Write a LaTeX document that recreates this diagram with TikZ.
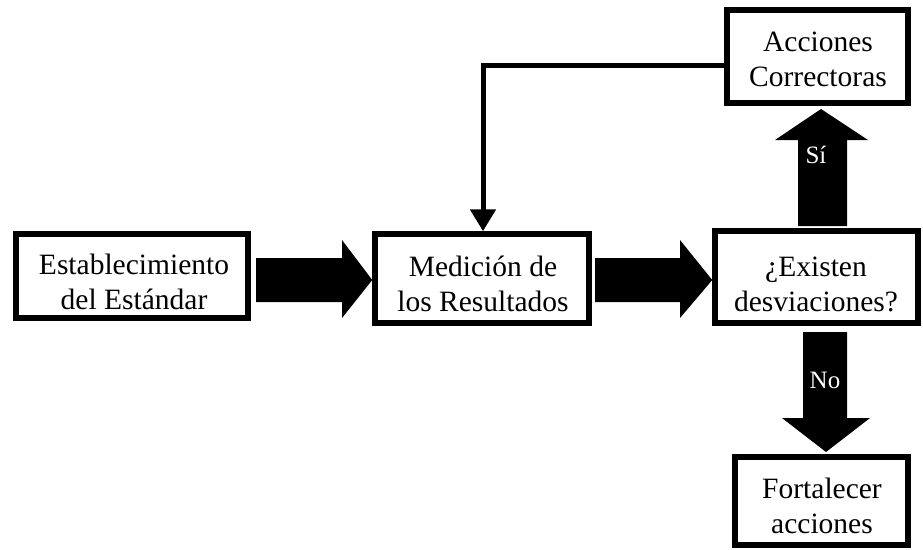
\documentclass[tikz,border=0pt]{standalone}
\usepackage{fontspec}
\setmainfont{Liberation Serif}
\usetikzlibrary{arrows.meta}
\begin{document}
\begin{tikzpicture}[x=1pt,y=-1pt,
  box/.style={draw=black, line width=5.5pt, inner sep=0pt},
  lbl/.style={font=\fontsize{29.5}{35}\selectfont, align=center, inner sep=0pt, text depth=0pt, anchor=south},
  bigarrow/.style={fill=black, draw=none},
  arrlbl/.style={font=\fontsize{25}{28}\selectfont, text=white, inner sep=0pt, anchor=base},
  fb/.style={line width=5pt, line join=miter, -{Triangle[width=25pt,length=22pt]}}]
\useasboundingbox (0,0) rectangle (923,549);
% boxes
\node[box, minimum width=232pt, minimum height=84pt] (b1) at (132,276) {};
\node[box, minimum width=214pt, minimum height=89pt] (b2) at (482,278.5) {};
\node[box, minimum width=203pt, minimum height=92pt] (b3) at (816.5,277) {};
\node[box, minimum width=181pt, minimum height=93pt] (b4) at (817.5,56.5) {};
\node[box, minimum width=173pt, minimum height=88pt] (b5) at (821.5,501) {};
% texts
\node[lbl] (t1) at (134,310) {Establecimiento\\del Estándar};
\node[lbl] (t2) at (483,312) {Medición de\\los Resultados};
\node[lbl] (t3) at (816,312) {¿Existen\\desviaciones?};
\node[lbl] (t4) at (818,87) {Acciones\\Correctoras};
\node[lbl] (t5) at (822,534) {Fortalecer\\acciones};
% block arrows
\fill[bigarrow] (256,258) -- (342,258) -- (342,240) -- (b2.west |- 0,280) -- (342,318) -- (342,302) -- (256,302) -- cycle;
\fill[bigarrow] (595,258) -- (680,258) -- (680,240) -- (b3.west |- 0,280) -- (680,318) -- (680,302) -- (595,302) -- cycle;
\fill[bigarrow] (798,226) -- (798,140) -- (775,140) -- (821,109) -- (868,140) -- (847,140) -- (847,226) -- cycle;
\fill[bigarrow] (803,332) -- (803,418) -- (782,418) -- (826,452) -- (870,418) -- (847,418) -- (847,332) -- cycle;
\node[arrlbl] (si) at (816,163) {Sí};
\node[arrlbl] (no) at (825,388) {No};
% feedback
\coordinate (fbk) at (483,65);
\draw[fb] (b4.west |- fbk) -- (fbk) -- (fbk |- b2.north);
\end{tikzpicture}
\end{document}
